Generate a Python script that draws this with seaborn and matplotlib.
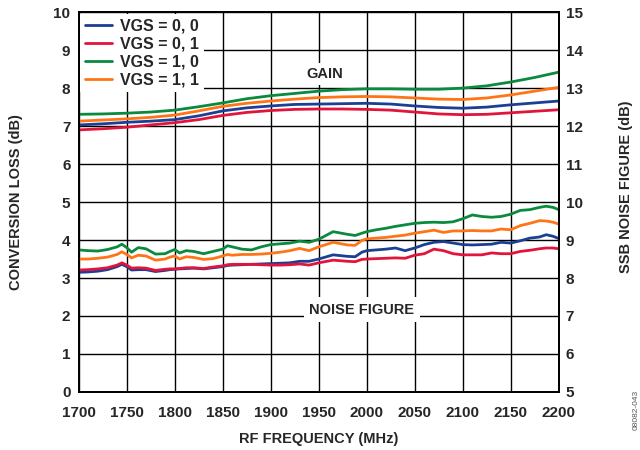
import numpy as np
import pandas as pd
import seaborn as sns
import matplotlib.pyplot as plt

# series names and colours
series = ["VGS = 0, 0", "VGS = 0, 1", "VGS = 1, 0", "VGS = 1, 1"]
colors = ["#1b3f94", "#e2143c", "#0a8a3e", "#ff7515"]

# conversion loss (dB), left axis
gain_freq = list(range(1700, 2201, 25))
gain_00 = [7.03, 7.06, 7.10, 7.13, 7.17, 7.27, 7.40, 7.48, 7.53, 7.57, 7.58,
           7.59, 7.60, 7.58, 7.53, 7.49, 7.47, 7.50, 7.56, 7.61, 7.66]
gain_01 = [6.90, 6.93, 6.97, 7.03, 7.09, 7.17, 7.28, 7.36, 7.41, 7.44, 7.45,
           7.45, 7.44, 7.42, 7.37, 7.32, 7.30, 7.31, 7.35, 7.39, 7.43]
gain_10 = [7.31, 7.32, 7.34, 7.37, 7.42, 7.51, 7.61, 7.72, 7.80, 7.86, 7.92,
           7.96, 7.98, 7.98, 7.97, 7.97, 8.00, 8.06, 8.16, 8.28, 8.42]
gain_11 = [7.13, 7.16, 7.19, 7.23, 7.29, 7.40, 7.52, 7.60, 7.66, 7.71, 7.75,
           7.77, 7.78, 7.77, 7.74, 7.71, 7.70, 7.74, 7.82, 7.92, 8.02]

# SSB noise figure (dB), right axis
nf_freq = [1700, 1710, 1720, 1730, 1740, 1745, 1750, 1755, 1762, 1770,
           1780, 1790, 1795, 1800, 1805, 1812, 1820, 1830, 1840, 1850,
           1855, 1860, 1870, 1880, 1890, 1900, 1910, 1920, 1930, 1940,
           1950, 1965, 1980, 1988, 1995, 2000, 2010, 2020, 2030, 2040,
           2050, 2060, 2070, 2080, 2090, 2100, 2110, 2120, 2130, 2140,
           2150, 2160, 2170, 2180, 2187, 2194, 2200]
nf_00 = [8.15, 8.16, 8.18, 8.22, 8.30, 8.36, 8.30, 8.21, 8.22, 8.22,
         8.17, 8.20, 8.22, 8.23, 8.24, 8.25, 8.26, 8.24, 8.27, 8.30,
         8.33, 8.34, 8.35, 8.36, 8.37, 8.38, 8.39, 8.40, 8.44, 8.44,
         8.50, 8.61, 8.57, 8.56, 8.68, 8.72, 8.74, 8.76, 8.79, 8.72,
         8.79, 8.88, 8.94, 8.96, 8.92, 8.88, 8.87, 8.88, 8.89, 8.94,
         8.92, 8.98, 9.05, 9.08, 9.14, 9.10, 9.04]
nf_01 = [8.21, 8.22, 8.24, 8.27, 8.34, 8.40, 8.34, 8.26, 8.27, 8.26,
         8.20, 8.23, 8.24, 8.24, 8.25, 8.27, 8.27, 8.25, 8.29, 8.32,
         8.35, 8.36, 8.36, 8.36, 8.35, 8.34, 8.34, 8.35, 8.37, 8.34,
         8.40, 8.47, 8.44, 8.43, 8.49, 8.50, 8.51, 8.52, 8.53, 8.52,
         8.60, 8.64, 8.76, 8.72, 8.64, 8.61, 8.61, 8.61, 8.66, 8.64,
         8.64, 8.70, 8.73, 8.77, 8.79, 8.79, 8.77]
nf_10 = [8.74, 8.72, 8.71, 8.75, 8.82, 8.89, 8.80, 8.68, 8.80, 8.77,
         8.63, 8.64, 8.70, 8.75, 8.66, 8.72, 8.70, 8.64, 8.70, 8.76,
         8.85, 8.82, 8.76, 8.74, 8.82, 8.88, 8.90, 8.92, 8.97, 8.94,
         9.02, 9.22, 9.15, 9.12, 9.18, 9.22, 9.27, 9.31, 9.36, 9.40,
         9.44, 9.46, 9.47, 9.46, 9.48, 9.56, 9.66, 9.62, 9.60, 9.62,
         9.68, 9.78, 9.80, 9.86, 9.89, 9.86, 9.80]
nf_11 = [8.50, 8.50, 8.52, 8.55, 8.62, 8.69, 8.62, 8.53, 8.60, 8.58,
         8.47, 8.50, 8.55, 8.58, 8.50, 8.56, 8.54, 8.49, 8.51, 8.58,
         8.62, 8.60, 8.62, 8.62, 8.63, 8.65, 8.68, 8.72, 8.78, 8.72,
         8.82, 8.94, 8.87, 8.86, 8.99, 9.03, 9.05, 9.07, 9.10, 9.13,
         9.18, 9.22, 9.26, 9.20, 9.24, 9.24, 9.25, 9.24, 9.24, 9.29,
         9.27, 9.38, 9.44, 9.51, 9.50, 9.47, 9.42]

gain_df = pd.concat([pd.DataFrame({"freq": gain_freq, "val": v, "series": s})
                     for s, v in zip(series, [gain_00, gain_01, gain_10, gain_11])])
nf_df = pd.concat([pd.DataFrame({"freq": nf_freq, "val": v, "series": s})
                   for s, v in zip(series, [nf_00, nf_01, nf_10, nf_11])])
pal = dict(zip(series, colors))

sns.set_style("white")
plt.rcParams["font.family"] = ["Liberation Sans", "DejaVu Sans"]
plt.rcParams["font.weight"] = "bold"

fig, ax = plt.subplots(figsize=(6.4, 4.5), dpi=100)
fig.subplots_adjust(left=0.123, right=0.873, top=0.973, bottom=0.129)
ax2 = ax.twinx()

sns.lineplot(data=gain_df, x="freq", y="val", hue="series", palette=pal,
             lw=2, ax=ax, errorbar=None)
sns.lineplot(data=nf_df, x="freq", y="val", hue="series", palette=pal,
             lw=2, ax=ax2, errorbar=None, legend=False)

handles, labels = ax.get_legend_handles_labels()
ax.get_legend().remove()

ax.set_xlim(1700, 2200)
ax.set_ylim(0, 10)
ax2.set_ylim(5, 15)
ax.set_xticks(range(1700, 2201, 50))
ax.set_yticks(range(0, 11))
ax2.set_yticks(range(5, 16))
ax.grid(True, color="black", lw=1)
ax2.grid(False)

for a in (ax, ax2):
    a.tick_params(length=0, labelsize=11)
    for sp in a.spines.values():
        sp.set_color("black")
        sp.set_linewidth(1.3)
ax.tick_params(axis="y", pad=6)
ax.tick_params(axis="x", pad=10)
ax2.tick_params(axis="y", pad=5)

ax.set_xlabel("RF FREQUENCY (MHz)", fontsize=10.5, fontweight="bold")
ax.set_ylabel("CONVERSION LOSS (dB)", fontsize=10.5, fontweight="bold")
ax2.set_ylabel("SSB NOISE FIGURE (dB)", fontsize=10.5, fontweight="bold")
ax.xaxis.set_label_coords(0.5, -0.105)
ax.yaxis.set_label_coords(-0.117, 0.5)
ax2.yaxis.set_label_coords(1.125, 0.54)

leg = ax2.legend(handles, labels, loc="upper left", fontsize=11.5,
                 frameon=True, fancybox=False, facecolor="white",
                 edgecolor="none", framealpha=1, handlelength=1.7,
                 handletextpad=0.5, labelspacing=0.18, borderpad=0.3,
                 borderaxespad=0.1)
for ln in leg.get_lines():
    ln.set_linewidth(2)

ax2.text(1956, 13.37, "GAIN", ha="center", va="center", fontsize=10.5,
         fontweight="bold", bbox=dict(facecolor="white", edgecolor="none", pad=3))
ax2.text(1995, 7.16, "NOISE FIGURE", ha="center", va="center", fontsize=10.5,
         fontweight="bold", bbox=dict(facecolor="white", edgecolor="none", pad=4))

fig.text(0.994, 0.045, "08082-043", rotation=90, ha="center", va="bottom",
         fontsize=6, color="#555555", fontweight="normal")

fig.savefig("out.png", dpi=100)
